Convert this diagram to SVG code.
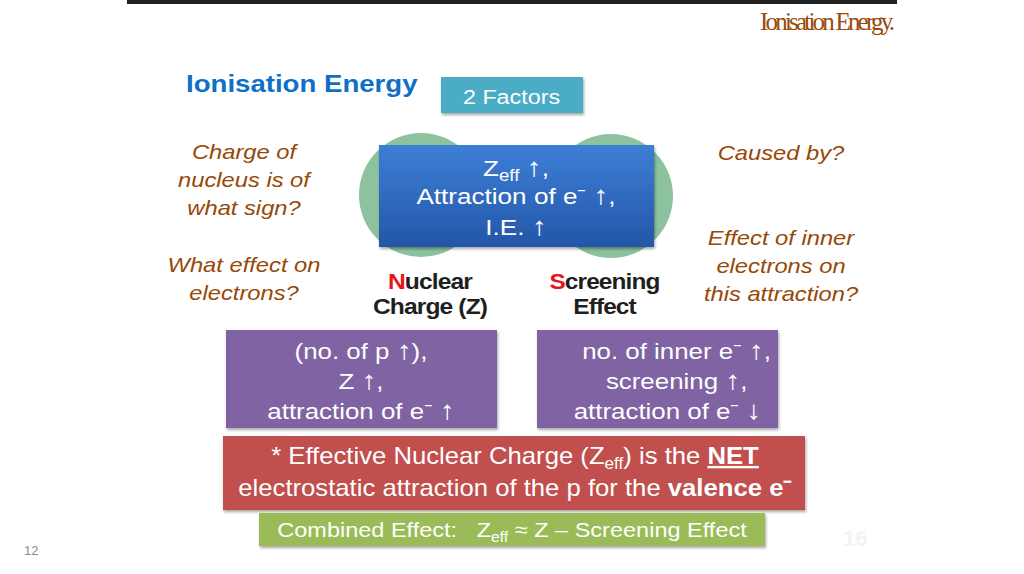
<svg xmlns="http://www.w3.org/2000/svg" width="1024" height="574" viewBox="0 0 1024 574">
<style>
.sans{font-family:"Liberation Sans",Arial,sans-serif}
.wt{fill:#ffffff;text-anchor:middle}
.q{font-family:"Liberation Sans",Arial,sans-serif;font-style:italic;fill:#984807;font-size:21px;text-anchor:middle}
.lbl{font-family:"Liberation Sans",Arial,sans-serif;font-weight:bold;font-size:22px;fill:#1f1f1f;text-anchor:middle;letter-spacing:-0.8px}
.red{fill:#E8141B}
.ar{font-size:26px}
</style>
<defs>
<filter id="sh" x="-10%" y="-10%" width="120%" height="130%">
<feDropShadow dx="1" dy="2" stdDeviation="1.5" flood-color="#000" flood-opacity="0.35"/>
</filter>
<linearGradient id="blue" x1="0" y1="0" x2="0" y2="1">
<stop offset="0" stop-color="#3D7FD6"/>
<stop offset="1" stop-color="#2456A8"/>
</linearGradient>
</defs>
<rect x="0" y="0" width="1024" height="574" fill="#ffffff"/>
<rect x="127" y="0" width="770" height="4" fill="#222222"/>
<text x="760" y="30" font-family="'Liberation Serif',serif" font-size="25" fill="#9A4A0A" letter-spacing="-2.8">Ionisation Energy.</text>
<g id="title"><text transform="translate(186 0) scale(1.15 1)" x="0" y="92" class="sans" font-size="24" font-weight="bold" fill="#0F6FC6">Ionisation Energy</text></g>
<g id="factors">
<rect x="441" y="77" width="142" height="36" fill="#4BACC6" filter="url(#sh)"/>
<text transform="translate(511.5 0) scale(1.11 1)" x="0" y="104" class="sans wt" font-size="21">2 Factors</text>
</g>
<g id="circles">
<circle cx="421" cy="195" r="62" fill="#8CC29E"/>
<circle cx="611" cy="196" r="62" fill="#8CC29E"/>
</g>
<g id="zeff">
<rect x="379" y="145" width="275" height="102" fill="url(#blue)" filter="url(#sh)"/>
<text transform="translate(516 0) scale(1.16 1)" class="sans wt" font-size="22.5"><tspan x="0" y="176">Z<tspan font-size="16" dy="5">eff</tspan><tspan dy="-5"> <tspan class="ar">↑</tspan>,</tspan></tspan><tspan x="0" y="204">Attraction of e⁻ <tspan class="ar">↑</tspan>,</tspan><tspan x="0" y="235">I.E. <tspan class="ar">↑</tspan></tspan></text>
</g>
<g id="left-questions">
<text transform="translate(244 0) scale(1.13 1)" class="q"><tspan x="0" y="159">Charge of</tspan><tspan x="0" y="187">nucleus is of</tspan><tspan x="0" y="215">what sign?</tspan><tspan x="0" y="272">What effect on</tspan><tspan x="0" y="300">electrons?</tspan></text>
</g>
<g id="right-questions">
<text transform="translate(781 0) scale(1.13 1)" class="q"><tspan x="0" y="160">Caused by?</tspan><tspan x="0" y="245">Effect of inner</tspan><tspan x="0" y="273">electrons on</tspan><tspan x="0" y="301">this attraction?</tspan></text>
</g>
<g id="nuclear">
<text transform="translate(430 0) scale(1.12 1)" class="lbl"><tspan x="0" y="289"><tspan class="red">N</tspan>uclear</tspan><tspan x="0" y="314">Charge (Z)</tspan></text>
</g>
<g id="screening">
<text transform="translate(604.5 0) scale(1.11 1)" class="lbl"><tspan x="0" y="289"><tspan class="red">S</tspan>creening</tspan><tspan x="0" y="314">Effect</tspan></text>
</g>
<g id="nuclear-box">
<rect x="226" y="330" width="271" height="98" fill="#8064A2" filter="url(#sh)"/>
<text transform="translate(361 0) scale(1.15 1)" class="sans wt" font-size="22.5"><tspan x="0" y="359">(no. of p <tspan class="ar">↑</tspan>),</tspan><tspan x="0" y="389">Z <tspan class="ar">↑</tspan>,</tspan><tspan x="0" y="419">attraction of e⁻ <tspan class="ar">↑</tspan></tspan></text>
</g>
<g id="screening-box">
<rect x="537" y="330" width="241" height="98" fill="#8064A2" filter="url(#sh)"/>
<text transform="translate(672 0) scale(1.15 1)" class="sans wt" font-size="22.5"><tspan x="4" y="359">no. of inner e⁻ <tspan class="ar">↑</tspan>,</tspan><tspan x="4" y="389">screening <tspan class="ar">↑</tspan>,</tspan><tspan x="-4" y="419">attraction of e⁻ <tspan class="ar">↓</tspan></tspan></text>
</g>
<g id="definition">
<rect x="223" y="436" width="582" height="74" fill="#C0504D" filter="url(#sh)"/>
<text transform="translate(515 0) scale(1.07 1)" class="sans wt" font-size="24"><tspan x="0" y="464">* Effective Nuclear Charge (Z<tspan font-size="16" dy="5">eff</tspan><tspan dy="-5">) is the </tspan><tspan font-weight="bold" text-decoration="underline">NET</tspan></tspan><tspan x="0" y="496">electrostatic attraction of the p for the <tspan font-weight="bold">valence e⁻</tspan></tspan></text>
</g>
<g id="combined">
<rect x="259" y="513" width="506" height="33" fill="#9BBB59" filter="url(#sh)"/>
<text transform="translate(512 0) scale(1.12 1)" class="sans wt" font-size="21" xml:space="preserve"><tspan x="0" y="537">Combined Effect:   Z<tspan font-size="14" dy="5">eff</tspan><tspan dy="-5"> ≈ Z – Screening Effect</tspan></tspan></text>
</g>
<text x="24" y="555" font-family="'Liberation Sans',sans-serif" font-size="13" fill="#8C8C8C">12</text>
<text x="843" y="546" font-family="'Liberation Sans',sans-serif" font-size="22" font-weight="bold" fill="#F3F3F3">16</text>
<g id="connectors"/>
</svg>
